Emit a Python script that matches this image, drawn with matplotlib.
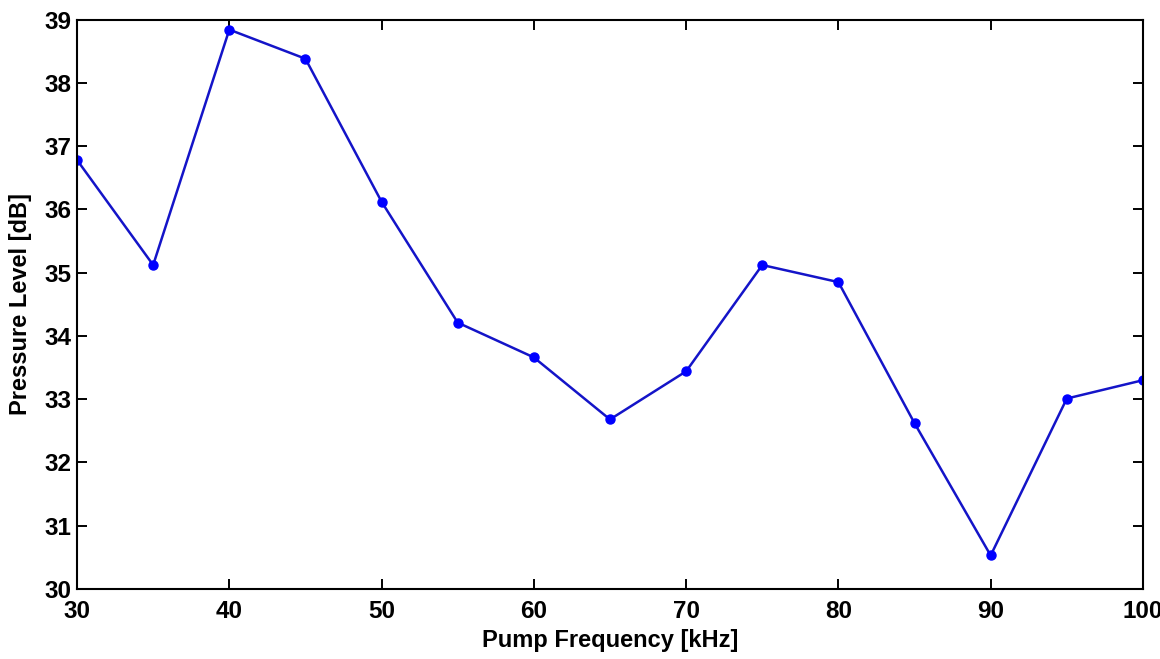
import matplotlib
matplotlib.use("Agg")
import matplotlib.pyplot as plt

freq = [30, 35, 40, 45, 50, 55, 60, 65, 70, 75, 80, 85, 90, 95, 100]
level = [36.78, 35.12, 38.84, 38.38, 36.12, 34.21, 33.66, 32.68, 33.44,
         35.12, 34.85, 32.62, 30.53, 33.01, 33.30]

xticks = [30, 40, 50, 60, 70, 80, 90, 100]
yticks = [30, 31, 32, 33, 34, 35, 36, 37, 38, 39]

plt.rcParams['font.family'] = ['Liberation Sans', 'DejaVu Sans']
plt.rcParams['font.weight'] = 'bold'

fig = plt.figure(figsize=(11.6, 6.59), dpi=100)
ax = fig.add_axes([0.0664, 0.1062, 0.9189, 0.8642])

ax.plot(freq, level, color='#1414c8', linewidth=1.8,
        marker='o', markersize=6.5, markerfacecolor='#0000ff',
        markeredgecolor='#0000ff')

ax.set_xlim(30, 100)
ax.set_ylim(30, 39)
ax.set_xticks(xticks)
ax.set_yticks(yticks)
ax.tick_params(direction='in', length=7, width=1.4, labelsize=17.5,
               top=True, right=True, color='black')
ax.tick_params(axis='x', pad=8)
ax.tick_params(axis='y', pad=4)
for s in ax.spines.values():
    s.set_linewidth(1.5)

ax.set_xlabel('Pump Frequency [kHz]', fontsize=17, fontweight='bold', labelpad=4)
ax.set_ylabel('Pressure Level [dB]', fontsize=17, fontweight='bold', labelpad=9)

fig.savefig('out.png', dpi=100)
